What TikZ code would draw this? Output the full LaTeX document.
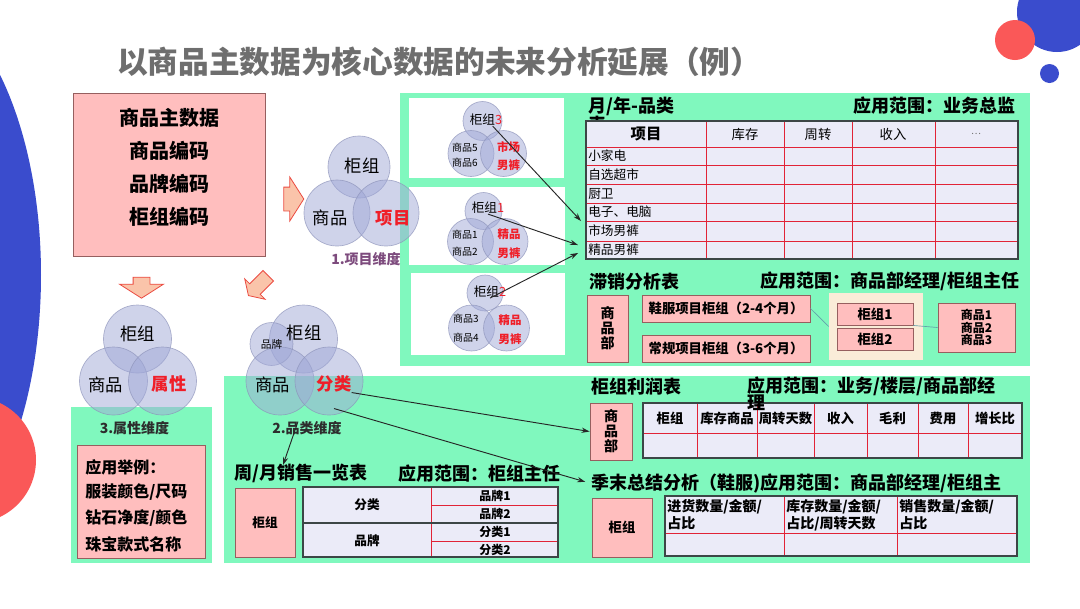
\documentclass[tikz,border=0pt]{standalone}
\usepackage{fontspec}
\setmainfont{Noto Sans CJK SC}
\usetikzlibrary{shapes.arrows,arrows.meta}
\newlength{\pxu}
\setlength{\pxu}{0.75pt}
\newcommand{\fsz}[2]{\fontsize{#1}{#2}\selectfont}
\definecolor{mint}{RGB}{128,248,190}
\definecolor{pinkbox}{RGB}{255,190,190}
\definecolor{pinkline}{RGB}{150,95,95}
\definecolor{vennfill}{RGB}{160,168,215}
\definecolor{vennline}{RGB}{140,146,185}
\definecolor{tabfill}{RGB}{235,235,248}
\definecolor{tabborder}{RGB}{60,70,70}
\definecolor{tabred}{RGB}{225,35,55}
\definecolor{hotred}{RGB}{240,30,40}
\definecolor{decoblue}{RGB}{58,76,205}
\definecolor{decored}{RGB}{250,88,88}
\definecolor{arrowfill}{RGB}{250,196,170}
\definecolor{arrowline}{RGB}{235,75,65}
\definecolor{titlegray}{RGB}{110,110,110}
\definecolor{dimpurple}{RGB}{125,75,125}
\definecolor{dimgray}{RGB}{45,45,45}
\definecolor{beige}{RGB}{250,236,216}
\definecolor{linkteal}{RGB}{100,160,170}
\tikzset{
  pinkcell/.style={draw=pinkline, fill=pinkbox, line width=0.7pt, align=center},
  vennring/.style={fill=vennfill, fill opacity=0.5, draw=vennline, draw opacity=0.7, line width=0.5pt},
  blockarrow/.style={single arrow, draw=arrowline, fill=arrowfill, line width=0.6pt, inner xsep=0pt, single arrow tip angle=115},
  linkarrow/.style={-{Stealth[length=6pt,width=4pt]}, line width=0.7pt, draw=black!85},
  thinlink/.style={draw=linkteal, line width=0.5pt},
  tabgrid/.style={draw=tabred, line width=0.6pt},
  tabframe/.style={draw=tabborder, line width=0.9pt},
  sectitle/.style={anchor=west, font=\fsz{13.5}{16}\bfseries},
  bigvenn/.style={font=\fsz{13}{15}},
  keyvenn/.style={font=\fsz{13}{15}\bfseries, text=hotred},
}
\begin{document}
\begin{tikzpicture}[x=0.75pt,y=-0.75pt,every node/.append style={inner sep=0pt}]
\useasboundingbox (0,0) rectangle (1080,608);
\fill[white] (0,0) rectangle (1080,608);
\begin{scope}
\clip (0,0) rectangle (1080,608);
\fill[decoblue] (-100,275) ellipse [x radius=141, y radius=284];
\fill[decored] (-27,460) circle [radius=63];
\fill[decoblue] (1057,12) circle [radius=40];
\fill[decored] (1015,40) circle [radius=20];
\fill[decoblue] (1049.5,73.5) circle [radius=9.5];
\end{scope}

\node[font=\fsz{23}{28}\bfseries, text=titlegray] (title) at (439,62) {以商品主数据为核心数据的未来分析延展（例）};

\node[pinkcell, minimum width=192\pxu, minimum height=163\pxu] (master) at (169,174.5) {};
\node[font=\fsz{15}{24.75}\bfseries, align=center] (masterText) at (169,167.5) {商品主数据\\商品编码\\品牌编码\\柜组编码};

\node[blockarrow, minimum height=20\pxu, minimum width=43\pxu, inner ysep=11.5\pxu, single arrow head extend=10\pxu] (toItem) at (290,199) {};
\node[blockarrow, rotate=-90, minimum height=21\pxu, minimum width=43\pxu, inner ysep=8\pxu, single arrow head extend=13.5\pxu] (toAttr) at (141.5,285) {};
\node[blockarrow, rotate=-135, minimum height=28\pxu, minimum width=28\pxu, inner ysep=7\pxu, single arrow head extend=7\pxu] (toCat) at (260,284) {};

\fill[mint] (400,93) rectangle (1030,366);
\fill[mint] (224,376) rectangle (1030,563);
\fill[mint] (71,407) rectangle (212,563);
\fill[white] (409,98) rectangle (564,178);
\fill[white] (409,187) rectangle (565,265);
\fill[white] (411,273) rectangle (565,355);

\filldraw[vennring] (359,167) circle [radius=31];
\filldraw[vennring] (337,213) circle [radius=33];
\filldraw[vennring] (386,213) circle [radius=33];
\node[bigvenn] (itemCab) at (362,166) {柜组};
\node[bigvenn] (itemGoods) at (330,218) {商品};
\node[keyvenn] (itemProj) at (393,218) {项目};
\node[font=\fsz{10.5}{12}\bfseries, text=dimpurple] (itemDim) at (366,259) {1.项目维度};

\filldraw[vennring] (482.5,121) circle [radius=19.5];
\filldraw[vennring] (471,153.5) circle [radius=23];
\filldraw[vennring] (503.5,153.5) circle [radius=23];
\node[font=\fsz{9.5}{11}] (g3) at (486,120) {柜组\textcolor{hotred}{3}};
\node[font=\fsz{7.5}{9}] (p5) at (465,147.5) {商品5};
\node[font=\fsz{7.5}{9}] (p6) at (465,163) {商品6};
\node[font=\fsz{8.6}{10}\bfseries, text=hotred] (m3a) at (508.5,147.5) {市场};
\node[font=\fsz{8.6}{10}\bfseries, text=hotred] (m3b) at (508.5,165) {男裤};

\filldraw[vennring] (483.5,211) circle [radius=18.5];
\filldraw[vennring] (470.5,241.5) circle [radius=23];
\filldraw[vennring] (505,241.5) circle [radius=23];
\node[font=\fsz{9.5}{11}] (g1) at (488,208) {柜组\textcolor{hotred}{1}};
\node[font=\fsz{7.5}{9}] (p1) at (465,235) {商品1};
\node[font=\fsz{7.5}{9}] (p2) at (465,252) {商品2};
\node[font=\fsz{8.6}{10}\bfseries, text=hotred] (j1a) at (509,234) {精品};
\node[font=\fsz{8.6}{10}\bfseries, text=hotred] (j1b) at (509,253) {男裤};

\filldraw[vennring] (485,293) circle [radius=18];
\filldraw[vennring] (471.5,328) circle [radius=23];
\filldraw[vennring] (506.5,328) circle [radius=23];
\node[font=\fsz{9.5}{11}] (g2) at (490,292) {柜组\textcolor{hotred}{2}};
\node[font=\fsz{7.5}{9}] (p3) at (466,319) {商品3};
\node[font=\fsz{7.5}{9}] (p4) at (466,338) {商品4};
\node[font=\fsz{8.6}{10}\bfseries, text=hotred] (j2a) at (510,320) {精品};
\node[font=\fsz{8.6}{10}\bfseries, text=hotred] (j2b) at (510,339) {男裤};

\node[sectitle] (monTitle) at (588,106) {月/年-品类};
\node[sectitle, anchor=east] (monScope) at (1016,106) {应用范围：业务总监};
\node[font=\fsz{13.5}{16}\bfseries] (monTail) at (597,125) {表};
\fill[tabfill] (586,121) rectangle (1018,259);
\foreach \cx in {706,784,852,935} \draw[tabgrid] (\cx,121) -- (\cx,259);
\foreach \ry in {147,165,184,203,221,241} \draw[tabgrid] (586,\ry) -- (1018,\ry);
\draw[tabframe] (586,121) rectangle (1018,259);
\node[font=\fsz{11.5}{13}\bfseries] (monHead) at (646,134) {项目};
\foreach \cx/\txt [count=\i] in {745/库存, 818/周转, 893/收入}
  \node[font=\fsz{10}{12}] (monCol\i) at (\cx,134) {\txt};
\node[font=\fsz{7}{8}, text=titlegray] (monMore) at (976,134) {…};
\foreach \ry/\txt [count=\i] in {156/小家电, 174.5/自选超市, 193.5/厨卫, 212/电子、电脑, 231/市场男裤, 250/精品男裤}
  \node[anchor=west, font=\fsz{9.5}{11}] (monRow\i) at (588,\ry) {\txt};

\node[sectitle] (slowTitle) at (589,281.5) {滞销分析表};
\node[sectitle] (slowScope) at (760,281.5) {应用范围：商品部经理/柜组主任};
\node[pinkcell, minimum width=41\pxu, minimum height=67\pxu, font=\fsz{10.5}{11.25}\bfseries] (slowDept) at (607.5,328.5) {商\\品\\部};
\node[pinkcell, minimum width=168\pxu, minimum height=27\pxu, font=\fsz{10}{12}\bfseries] (slowShoe) at (726,308.5) {鞋服项目柜组（2-4个月）};
\node[pinkcell, minimum width=168\pxu, minimum height=27\pxu, font=\fsz{10}{12}\bfseries] (slowNorm) at (726,348.5) {常规项目柜组（3-6个月）};
\node[fill=beige, minimum width=94\pxu, minimum height=67\pxu] (slowCabs) at (876,326.5) {};
\node[pinkcell, minimum width=76\pxu, minimum height=22\pxu, font=\fsz{10}{12}\bfseries] (cab1) at (875,314) {柜组1};
\node[pinkcell, minimum width=76\pxu, minimum height=22\pxu, font=\fsz{10}{12}\bfseries] (cab2) at (875,339) {柜组2};
\node[pinkcell, minimum width=77\pxu, minimum height=49\pxu, font=\fsz{9}{9.6}\bfseries] (slowGoods) at (976.5,327.5) {商品1\\商品2\\商品3};
\draw[thinlink] (slowShoe.east) -- (slowCabs.west);
\draw[thinlink] (cab1.south east) -- (slowGoods.west);

\filldraw[vennring] (137.5,339) circle [radius=34];
\filldraw[vennring] (113.5,381) circle [radius=34];
\filldraw[vennring] (162.5,381) circle [radius=34];
\node[bigvenn] (attrCab) at (137.5,333.5) {柜组};
\node[bigvenn] (attrGoods) at (105.5,385) {商品};
\node[keyvenn] (attrProp) at (169,384) {属性};
\node[font=\fsz{10.5}{12}\bfseries, text=dimgray] (attrDim) at (134.5,428.5) {3.属性维度};
\node[pinkcell, minimum width=128\pxu, minimum height=113\pxu] (attrCase) at (141,501.5) {};
\foreach \ry/\txt [count=\i] in {467/{应用举例：}, 492.5/{服装颜色/尺码}, 518.5/{钻石净度/颜色}, 544.5/{珠宝款式名称}}
  \node[anchor=west, font=\fsz{12}{14}\bfseries] (attrLine\i) at (85,\ry) {\txt};

\filldraw[vennring] (303.5,339) circle [radius=34];
\filldraw[vennring] (271.5,344) circle [radius=21.5];
\filldraw[vennring] (280,381) circle [radius=34];
\filldraw[vennring] (329,381) circle [radius=34];
\node[bigvenn] (catCab) at (304,333) {柜组};
\node[font=\fsz{8}{9}] (catBrand) at (271.5,344) {品牌};
\node[bigvenn] (catGoods) at (272.5,385) {商品};
\node[keyvenn] (catLabel) at (334,384) {分类};
\node[font=\fsz{10.5}{12}\bfseries, text=dimgray] (catDim) at (307,428.5) {2.品类维度};

\node[sectitle] (weekTitle) at (234,473.5) {周/月销售一览表};
\node[sectitle] (weekScope) at (398,473.5) {应用范围：柜组主任};
\node[pinkcell, minimum width=60\pxu, minimum height=69\pxu, font=\fsz{9.5}{11}\bfseries] (weekCab) at (265,522.5) {柜组};
\fill[tabfill] (303,487) rectangle (558,557);
\draw[tabgrid] (431,487) -- (431,557);
\draw[tabgrid] (431,505) -- (558,505);
\draw[tabgrid] (431,541) -- (558,541);
\draw[tabframe] (303,523) -- (558,523);
\draw[tabframe] (303,487) rectangle (558,557);
\node[font=\fsz{9.5}{11}\bfseries] (weekCat) at (367,505) {分类};
\node[font=\fsz{9.5}{11}\bfseries] (weekBrand) at (367,541) {品牌};
\foreach \ry/\txt [count=\i] in {496/品牌1, 514/品牌2, 532/分类1, 550/分类2}
  \node[font=\fsz{9}{10}\bfseries] (weekSub\i) at (495,\ry) {\txt};

\node[sectitle] (profTitle) at (591,386.5) {柜组利润表};
\node[sectitle] (profScope) at (747,386.5) {应用范围：业务/楼层/商品部经};
\node[pinkcell, minimum width=42\pxu, minimum height=57\pxu, font=\fsz{10.5}{11.25}\bfseries] (profDept) at (611,431.5) {商\\品\\部};
\fill[tabfill] (643,403) rectangle (1022,458);
\foreach \cx in {697,757,814,867,918,968} \draw[tabgrid] (\cx,403) -- (\cx,458);
\draw[tabgrid] (643,433) -- (1022,433);
\draw[tabframe] (643,403) rectangle (1022,458);
\foreach \cx/\txt [count=\i] in {670/柜组, 727/库存商品, 785.5/周转天数, 840.5/收入, 892.5/毛利, 943/费用, 995/增长比}
  \node[font=\fsz{10}{12}\bfseries] (profCol\i) at (\cx,418) {\txt};
\node[font=\fsz{13.5}{16}\bfseries] (profTail) at (756.5,403) {理};

\node[sectitle] (qTitle) at (591,483.5) {季末总结分析（鞋服)应用范围：商品部经理/柜组主};
\node[pinkcell, minimum width=60\pxu, minimum height=59\pxu, font=\fsz{10}{12}\bfseries] (qCab) at (622,527.5) {柜组};
\fill[tabfill] (665,496) rectangle (1017,556);
\foreach \cx in {784,897} \draw[tabgrid] (\cx,496) -- (\cx,556);
\draw[tabgrid] (665,533) -- (1017,533);
\draw[tabframe] (665,496) rectangle (1017,556);
\foreach \cx/\txt [count=\i] in {667/{进货数量/金额/\\占比}, 786/{库存数量/金额/\\占比/周转天数}, 899/{销售数量/金额/\\占比}}
  \node[anchor=west, align=left, font=\fsz{10.5}{12.75}\bfseries] (qCol\i) at (\cx,515) {\txt};

\coordinate (inA) at (581,221);
\coordinate (inB) at (578,245);
\coordinate (inC) at (578,253);
\coordinate (weekIn) at (283,465);
\draw[linkarrow] ([xshift=5pt]g3.south) -- (inA);
\draw[linkarrow] (g1.south) -- (inB);
\draw[linkarrow] (g2.south) -- (inC);
\draw[linkarrow] ([xshift=-6.75pt]catDim.north) -- (weekIn);
\draw[linkarrow] (catLabel.south east) -- (profDept.west);
\draw[linkarrow, shorten >=6\pxu] ([yshift=-12pt]catLabel.south) -- (qTitle.west);
\end{tikzpicture}
\end{document}
